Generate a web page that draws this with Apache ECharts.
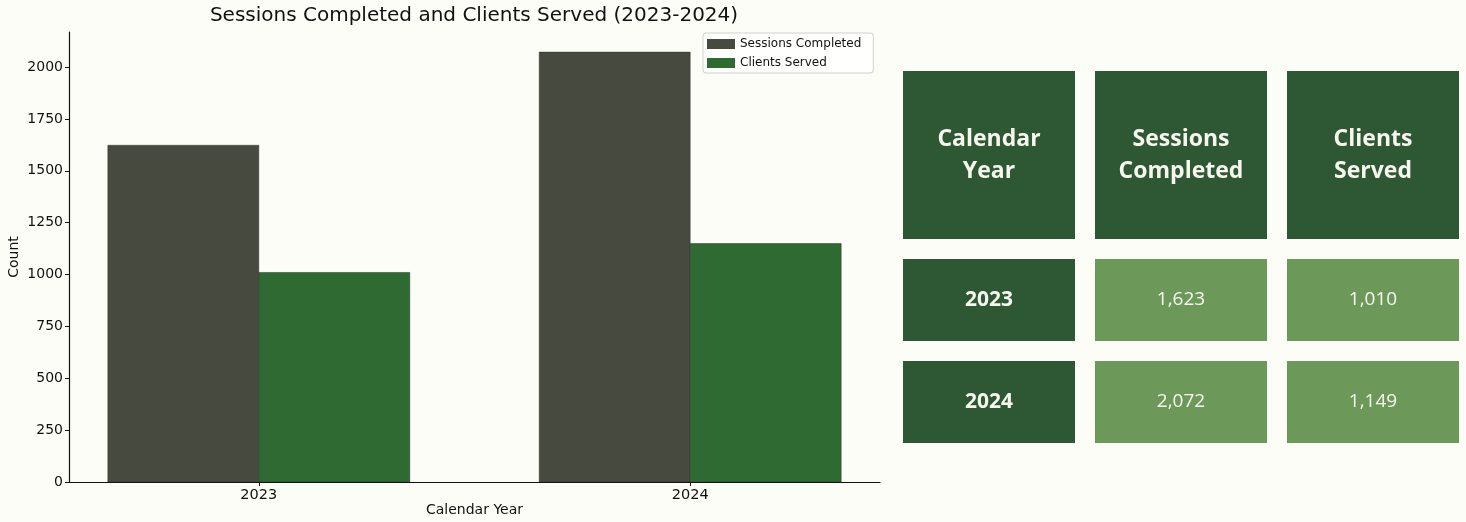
<!DOCTYPE html>
<html>
<head>
<meta charset="utf-8">
<script src="https://cdn.jsdelivr.net/npm/echarts@6/dist/echarts.min.js"></script>
<style>
  html, body { margin: 0; padding: 0; background: #fdfdf8; }
  #main { width: 1466px; height: 522px; }
</style>
</head>
<body>
<div id="main"></div>
<script>
// ---- data ----
const years = ['2023', '2024'];
const sessionsCompleted = [1623, 2072];
const clientsServed = [1010, 1149];
const tableHeaders = ['Calendar Year', 'Sessions Completed', 'Clients Served'];
const yTicks = [0, 250, 500, 750, 1000, 1250, 1500, 1750, 2000];

// ---- styles ----
const SESS_COLOR = '#474b3f';
const CLIENT_COLOR = '#2f6a33';
const HEAD_COLOR = '#2d5833';
const CELL_COLOR = '#6c9959';
const BAR_W = 0.35;
const CELL_GAP = 20;
const FONT = 'DejaVu Sans';

const chart = echarts.init(document.getElementById('main'), null, { renderer: 'canvas' });

function barRenderer(side) {
  return function (params, api) {
    const x = api.value(0), v = api.value(1);
    const a = api.coord([side < 0 ? x - BAR_W : x, v]);
    const b = api.coord([side < 0 ? x : x + BAR_W, 0]);
    return {
      type: 'rect',
      shape: { x: a[0], y: a[1], width: b[0] - a[0], height: b[1] - a[1] },
      style: api.style({ stroke: 'rgba(40,40,40,0.6)', lineWidth: 0.8 })
    };
  };
}

function cellRenderer(color, textFn, font) {
  return function (params, api) {
    const c = api.coord([api.value(0), api.value(1)]);
    const s = api.size([1, 1]);
    const w = s[0] - CELL_GAP, h = s[1] - CELL_GAP;
    return {
      type: 'rect',
      shape: { x: c[0] - w / 2, y: c[1] - h / 2, width: w, height: h },
      style: { fill: color },
      textContent: {
        style: Object.assign({ text: textFn(api.value(0), api.value(1)), fill: '#f7f7f0', align: 'center', verticalAlign: 'middle' }, font)
      },
      textConfig: { position: 'inside' }
    };
  };
}

const fmt = n => n.toLocaleString('en-US');

const option = {
  backgroundColor: '#fdfdf8',
  animation: false,
  title: {
    text: 'Sessions Completed and Clients Served (2023-2024)',
    left: 469, top: 1, textAlign: 'center',
    textStyle: { fontFamily: FONT, fontSize: 20, fontWeight: 'normal', color: '#111' }
  },
  legend: {
    orient: 'vertical',
    left: 703, top: 33,
    padding: [5, 12, 4, 4],
    itemGap: 7,
    itemWidth: 28, itemHeight: 10,
    borderColor: '#d0d0d0', borderWidth: 1, borderRadius: 3,
    backgroundColor: 'rgba(255,255,255,0.8)',
    textStyle: { fontFamily: FONT, fontSize: 12, color: '#111' },
    data: [
      { name: 'Sessions Completed', icon: 'rect' },
      { name: 'Clients Served', icon: 'rect' }
    ]
  },
  grid: [
    { left: 69, top: 32, width: 811, height: 450, containLabel: false, outerBoundsMode: 'none' },
    { left: 893, top: 61, width: 576, height: 188, containLabel: false, outerBoundsMode: 'none' },
    { left: 893, top: 249, width: 576, height: 204, containLabel: false, outerBoundsMode: 'none' }
  ],
  xAxis: [
    {
      gridIndex: 0, type: 'value', min: -0.44, max: 1.44,
      name: 'Calendar Year', nameLocation: 'middle', nameGap: 21, nameMoveOverlap: false,
      nameTextStyle: { fontFamily: FONT, fontSize: 14, color: '#111' },
      splitLine: { show: false },
      axisLine: { show: true, onZero: false, lineStyle: { color: '#111', width: 1.2 } },
      axisTick: { show: true, length: 4, customValues: years.map((y, i) => i), lineStyle: { color: '#111' } },
      axisLabel: {
        customValues: years.map((y, i) => i),
        formatter: v => years[Math.round(v)],
        fontFamily: FONT, fontSize: 14.5, color: '#111', margin: 6
      }
    },
    { gridIndex: 1, type: 'category', data: tableHeaders, show: false },
    { gridIndex: 2, type: 'category', data: tableHeaders, show: false }
  ],
  yAxis: [
    {
      gridIndex: 0, type: 'value', min: 0, max: 2169, interval: 250,
      name: 'Count', nameLocation: 'middle', nameGap: 48, nameRotate: 90, nameMoveOverlap: false,
      nameTextStyle: { fontFamily: FONT, fontSize: 14, color: '#111' },
      splitLine: { show: false },
      axisLine: { show: true, onZero: false, lineStyle: { color: '#111', width: 1.2 } },
      axisTick: { show: true, length: 4, customValues: yTicks, lineStyle: { color: '#111' } },
      axisLabel: { customValues: yTicks, formatter: v => String(v), fontFamily: FONT, fontSize: 14, color: '#111', margin: 6 }
    },
    { gridIndex: 1, type: 'category', data: ['header'], inverse: true, show: false },
    { gridIndex: 2, type: 'category', data: years, inverse: true, show: false }
  ],
  series: [
    {
      name: 'Sessions Completed', type: 'custom', xAxisIndex: 0, yAxisIndex: 0,
      itemStyle: { color: SESS_COLOR },
      renderItem: barRenderer(-1),
      data: sessionsCompleted.map((v, i) => [i, v])
    },
    {
      name: 'Clients Served', type: 'custom', xAxisIndex: 0, yAxisIndex: 0,
      itemStyle: { color: CLIENT_COLOR },
      renderItem: barRenderer(1),
      data: clientsServed.map((v, i) => [i, v])
    },
    {
      name: 'tableHeader', type: 'custom', xAxisIndex: 1, yAxisIndex: 1,
      renderItem: cellRenderer(HEAD_COLOR, (c) => tableHeaders[c].replace(' ', '\n'),
        { fontFamily: 'Open Sans', fontWeight: 'bold', fontSize: 23, lineHeight: 32 }),
      data: tableHeaders.map((h, i) => [i, 0])
    },
    {
      name: 'tableYears', type: 'custom', xAxisIndex: 2, yAxisIndex: 2,
      renderItem: cellRenderer(HEAD_COLOR, (c, r) => years[r],
        { fontFamily: 'Open Sans', fontWeight: 'bold', fontSize: 21 }),
      data: years.map((y, i) => [0, i])
    },
    {
      name: 'tableValues', type: 'custom', xAxisIndex: 2, yAxisIndex: 2,
      renderItem: cellRenderer(CELL_COLOR, (c, r) => fmt(c === 1 ? sessionsCompleted[r] : clientsServed[r]),
        { fontFamily: 'Open Sans', fontWeight: 'normal', fontSize: 19 }),
      data: years.flatMap((y, i) => [[1, i], [2, i]])
    }
  ]
};

chart.setOption(option);
</script>
</body>
</html>
